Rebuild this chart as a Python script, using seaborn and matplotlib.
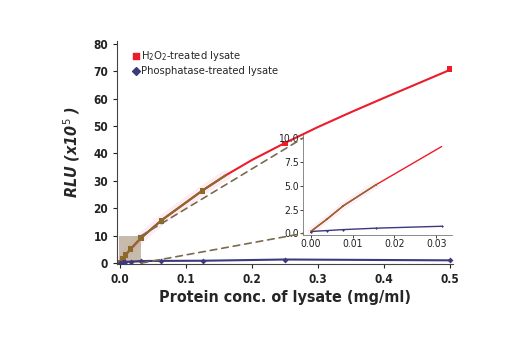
import numpy as np
import matplotlib
matplotlib.use("Agg")
import matplotlib.pyplot as plt
from matplotlib.patches import Rectangle, ConnectionPatch
from matplotlib import font_manager
import seaborn as sns

# Data
conc = [0.0, 0.0039, 0.0078, 0.0156, 0.03125, 0.0625, 0.125, 0.25, 0.5]
h2o2 = [0.2, 1.5, 2.9, 5.1, 9.1, 15.4, 26.3, 43.6, 70.8]
phos = [0.2, 0.3, 0.4, 0.55, 0.75, 0.8, 0.85, 1.3, 1.0]

# fitted curve
curve_x = [0.0, 0.0039, 0.0078, 0.0156, 0.03125, 0.0625, 0.125, 0.16, 0.2, 0.25, 0.3, 0.35, 0.4, 0.45, 0.5]
curve_y = [0.2, 1.5, 2.9, 5.1, 9.1, 15.6, 26.5, 32.0, 37.6, 43.8, 49.6, 55.0, 60.2, 65.3, 70.4]
linear_x = curve_x[:8]
linear_y = curve_y[:8]

RED = "#ec1c2a"
NAVY = "#3c3a7c"
BROWN = "#8c6a2c"
DASH = "#7a6a4e"

sns.set_style("ticks")
names = {f.name for f in font_manager.fontManager.ttflist}
if 'Liberation Sans Narrow' in names:
    plt.rcParams['font.family'] = ['Liberation Sans Narrow', 'DejaVu Sans']
else:
    plt.rcParams['font.family'] = ['DejaVu Sans']
    plt.rcParams['font.stretch'] = 'condensed'

fig = plt.figure(figsize=(5.2, 3.5), dpi=100)
ax = fig.add_axes([0.225, 0.246, 0.646, 0.637])

# faint pink glow under the low end
ax.plot(linear_x, linear_y, color="#f9d3e3", lw=7, alpha=0.4, solid_capstyle="round", zorder=1)

sns.lineplot(x=curve_x, y=curve_y, color=RED, lw=1.5, ax=ax, zorder=3)
sns.lineplot(x=linear_x, y=linear_y, color=BROWN, lw=1.5, ax=ax, zorder=4)
sns.lineplot(x=conc, y=phos, color=NAVY, lw=1.5, ax=ax, zorder=3)

pt_colors = [BROWN if c <= 0.16 else RED for c in conc]
ax.scatter(conc, h2o2, marker="s", s=16, c=pt_colors, zorder=5, linewidths=0)
ax.scatter(conc, phos, marker="D", s=9, c=NAVY, zorder=5, linewidths=0)

# legend proxies
ax.scatter([], [], marker="s", s=22, c=RED, label="H$_2$O$_2$-treated lysate")
ax.scatter([], [], marker="D", s=16, c=NAVY, label="Phosphatase-treated lysate")
ax.legend(loc="upper left", bbox_to_anchor=(0.02, 1.0), frameon=False, fontsize=8,
          handletextpad=0.1, borderaxespad=0.3, labelspacing=0.25, handlelength=0.8)

ax.set_xlim(-0.005, 0.505)
ax.set_ylim(-0.3, 81)
ax.set_xticks(np.arange(0, 0.51, 0.1))
ax.set_yticks(np.arange(0, 81, 10))
ax.set_xticklabels([f"{v:.1f}" for v in np.arange(0, 0.51, 0.1)])
ax.tick_params(labelsize=8.5, length=3, width=0.8, colors="#222222")
for lab in ax.get_xticklabels() + ax.get_yticklabels():
    lab.set_fontweight("bold")
ax.set_xlabel("Protein conc. of lysate (mg/ml)", fontsize=11.5, fontweight="bold", labelpad=3)
ax.set_ylabel("RLU (x10$^5$ )", fontsize=11.5, fontweight="bold", style="italic", labelpad=8)
sns.despine(ax=ax)
for s in ax.spines.values():
    s.set_linewidth(0.8)
    s.set_color("#444444")

# zoom box
box_x0, box_x1, box_y0, box_y1 = -0.002, 0.032, 0.0, 10.0
ax.add_patch(Rectangle((box_x0, box_y0), box_x1 - box_x0, box_y1 - box_y0,
                       facecolor="#b5a58f", edgecolor="none", alpha=0.75, zorder=2))

# inset
ins = fig.add_axes([0.583, 0.329, 0.286, 0.285])
ins.plot(linear_x[:4], linear_y[:4], color="#f9d3e3", lw=5, alpha=0.35, zorder=1)
sns.lineplot(x=conc[:5], y=h2o2[:5], color=RED, lw=1.0, ax=ins, zorder=3)
sns.lineplot(x=conc[:4], y=h2o2[:4], color=BROWN, lw=1.0, ax=ins, zorder=4)
sns.lineplot(x=conc[:5], y=phos[:5], color=NAVY, lw=1.0, ax=ins, zorder=3)
ins.scatter(conc[:4], h2o2[:4], marker="s", s=3, c=BROWN, zorder=5, linewidths=0)
ins.scatter(conc[:5], phos[:5], marker="D", s=2, c=NAVY, zorder=5, linewidths=0)
ins.set_xlim(-0.0018, 0.0337)
ins.set_ylim(-0.15, 10.3)
ins.set_xticks([0.0, 0.01, 0.02, 0.03])
ins.set_xticklabels(["0.00", "0.01", "0.02", "0.03"])
ins.set_yticks([0, 2.5, 5, 7.5, 10])
ins.set_yticklabels(["0.0", "2.5", "5.0", "7.5", "10.0"])
ins.tick_params(labelsize=7.5, length=2, width=0.6, pad=1, colors="#222222")
ins.patch.set_alpha(0)
sns.despine(ax=ins)
for s in ins.spines.values():
    s.set_linewidth(0.6)
    s.set_color("#777777")

# dashed connectors from box to inset
for yb, yi in [(box_y1, 10.0), (box_y0, 0.0)]:
    con = ConnectionPatch(xyA=(box_x1, yb), coordsA=ax.transData,
                          xyB=(ins.get_xlim()[0], yi), coordsB=ins.transData,
                          linestyle=(0, (4, 3)), color=DASH, lw=1.2, zorder=2)
    fig.add_artist(con)

fig.savefig("out.png", dpi=100)
